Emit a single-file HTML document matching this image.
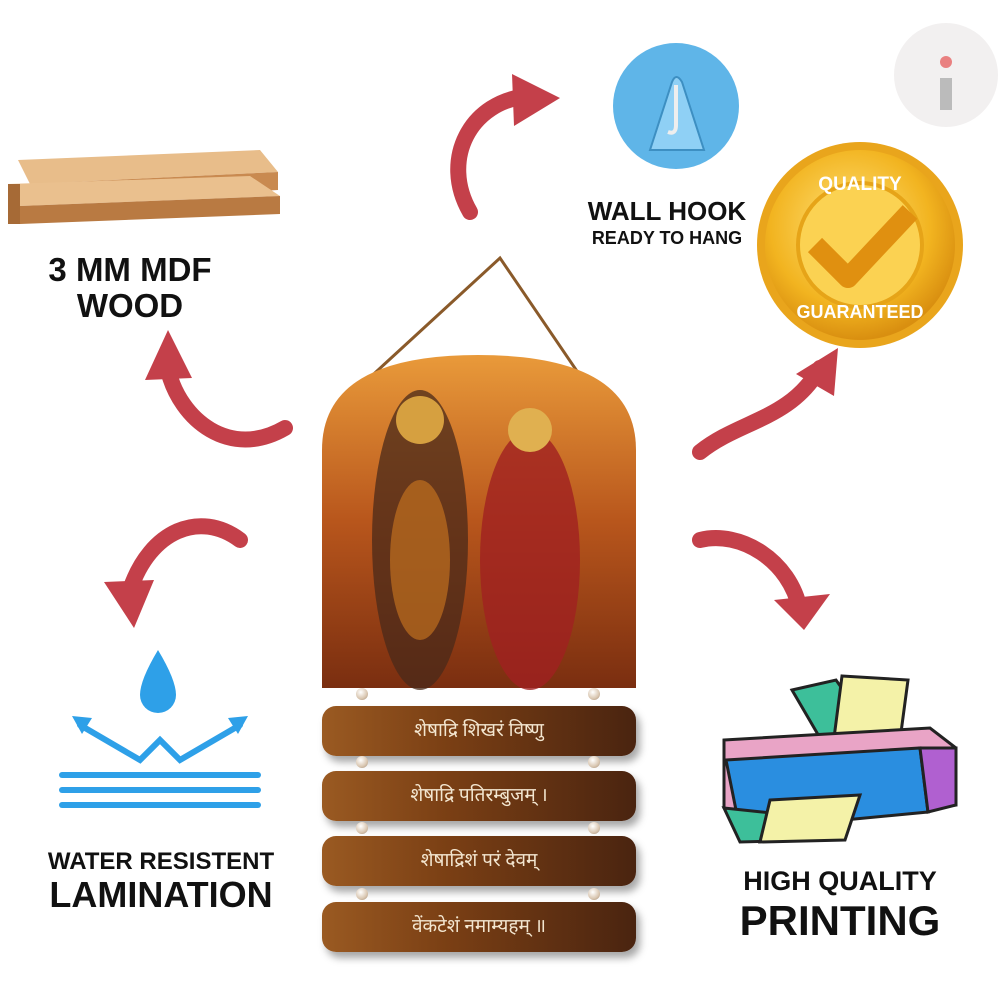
<!DOCTYPE html>
<html><head><meta charset="utf-8"><style>
html,body{margin:0;padding:0;background:#fff;}
body{width:1000px;height:1000px;position:relative;overflow:hidden;font-family:"Liberation Sans",sans-serif;}
.t{position:absolute;font-weight:bold;color:#111;text-align:center;white-space:nowrap;}
.bar{position:absolute;left:322px;width:314px;height:50px;border-radius:14px;
background:linear-gradient(90deg,#9a5a22 0%,#7a3f14 40%,#4a2410 100%);box-shadow:4px 6px 8px rgba(0,0,0,.35);
color:#f3e6d0;font-size:19px;text-align:center;line-height:50px;font-family:"Liberation Serif","Noto Sans CJK SC",serif;}
.bead{position:absolute;width:12px;height:12px;border-radius:50%;background:radial-gradient(circle at 40% 35%,#fff,#d9c6b0 60%,#9b8570);}
</style></head><body>

<svg width="1000" height="1000" style="position:absolute;left:0;top:0">
<defs>
<linearGradient id="wood" x1="0" y1="0" x2="0" y2="1"><stop offset="0" stop-color="#e2b47e"/><stop offset="1" stop-color="#c98d52"/></linearGradient>
<radialGradient id="gold" cx=".45" cy=".4" r=".6"><stop offset="0" stop-color="#ffe27a"/><stop offset=".7" stop-color="#f2b420"/><stop offset="1" stop-color="#d98f10"/></radialGradient>
<linearGradient id="img" x1="0" y1="0" x2="0" y2="1"><stop offset="0" stop-color="#e99a3a"/><stop offset=".5" stop-color="#b8561c"/><stop offset="1" stop-color="#7a2e10"/></linearGradient>
</defs>
<!-- wood planks -->
<polygon points="18,160 260,150 278,172 30,184" fill="#e8bd8a"/>
<polygon points="30,184 278,172 278,190 30,204" fill="#c98a50"/>
<polygon points="8,184 250,176 280,196 20,206" fill="#eac08e"/>
<polygon points="20,206 280,196 280,214 20,224" fill="#b97a42"/>
<rect x="8" y="184" width="12" height="40" fill="#a66a36"/>
<!-- red arrows -->
<g fill="none" stroke="#c4404a" stroke-width="16" stroke-linecap="round">
<path d="M470,212 C440,160 470,100 530,96"/>
<path d="M285,428 C230,460 180,420 168,370"/>
<path d="M240,540 C200,510 150,530 130,590"/>
<path d="M700,452 C740,420 790,420 820,368"/>
<path d="M700,540 C740,530 790,560 800,610"/>
</g>
<g fill="#c4404a">
<polygon points="512,74 560,98 514,126"/>
<polygon points="145,380 168,330 192,378"/>
<polygon points="104,582 134,628 154,580"/>
<polygon points="796,374 838,348 834,396"/>
<polygon points="774,600 804,630 830,594"/>
</g>
<!-- wall hook -->
<circle cx="676" cy="106" r="63" fill="#5fb5e8"/>
<path d="M650,150 L672,82 Q676,72 682,82 L704,150 Z" fill="#8fd0f5" stroke="#3d8fc2" stroke-width="2"/>
<path d="M676,85 L676,125 Q676,135 668,132" fill="none" stroke="#eee" stroke-width="4"/>
<!-- quality badge -->
<circle cx="860" cy="245" r="103" fill="#e9a51c"/>
<circle cx="860" cy="245" r="95" fill="url(#gold)"/>
<circle cx="860" cy="245" r="62" fill="#fbd252" stroke="#e6a418" stroke-width="4"/>
<path d="M815,245 L848,278 L910,212" fill="none" stroke="#e09010" stroke-width="20" stroke-linejoin="round"/>
<text x="860" y="190" font-family="Liberation Sans" font-weight="bold" font-size="19" fill="#fff" text-anchor="middle">QUALITY</text>
<text x="860" y="318" font-family="Liberation Sans" font-weight="bold" font-size="18" fill="#fff" text-anchor="middle">GUARANTEED</text>
<!-- i logo -->
<circle cx="946" cy="75" r="52" fill="#f2f0f0"/>
<rect x="940" y="78" width="12" height="32" fill="#bbb"/>
<circle cx="946" cy="62" r="6" fill="#e98080"/>
<!-- strings -->
<path d="M340,405 L500,258 L600,405" fill="none" stroke="#8a5a2a" stroke-width="3"/>
<!-- plaque image -->
<path d="M322,688 L322,450 Q322,355 478,355 Q636,355 636,450 L636,688 Z" fill="url(#img)" />
<ellipse cx="420" cy="540" rx="48" ry="150" fill="#4a2a1a" opacity=".75"/>
<ellipse cx="530" cy="560" rx="50" ry="130" fill="#a02020" opacity=".8"/>
<circle cx="420" cy="420" r="24" fill="#d6a040"/>
<circle cx="530" cy="430" r="22" fill="#e0b050"/>
<ellipse cx="420" cy="560" rx="30" ry="80" fill="#d07a20" opacity=".6"/>
<!-- water icon -->
<path d="M158,650 Q140,680 140,695 A18,18 0 0 0 176,695 Q176,680 158,650 Z" fill="#2ea0e8"/>
<g stroke="#2ea0e8" stroke-width="6" fill="none" stroke-linecap="round">
<path d="M80,725 L140,760 L160,740 L180,760 L240,725"/>
<line x1="62" y1="775" x2="258" y2="775"/>
<line x1="62" y1="790" x2="258" y2="790"/>
<line x1="62" y1="805" x2="258" y2="805"/>
</g>
<polygon points="72,716 92,718 82,734" fill="#2ea0e8"/>
<polygon points="248,716 228,718 238,734" fill="#2ea0e8"/>
<!-- printer -->
<polygon points="792,690 836,680 870,728 820,738" fill="#3dbf9a" stroke="#222" stroke-width="3"/>
<polygon points="842,676 908,680 900,740 834,738" fill="#f4f2a8" stroke="#222" stroke-width="3"/>
<path d="M724,740 L930,728 L956,748 L956,805 L740,828 L724,808 Z" fill="#e9a4c6" stroke="#222" stroke-width="3"/>
<path d="M726,760 L920,748 L928,812 L740,830 Z" fill="#2a8ee0" stroke="#222" stroke-width="3"/>
<path d="M920,748 L956,748 L956,805 L928,812 Z" fill="#b060d0" stroke="#222" stroke-width="3"/>
<path d="M724,808 L790,815 L820,840 L740,842 Z" fill="#3dbf9a" stroke="#222" stroke-width="3"/>
<polygon points="770,800 860,795 845,840 760,842" fill="#f4f2a8" stroke="#222" stroke-width="3"/>
</svg>

<div class="t" style="left:20px;top:252px;width:220px;font-size:33px;line-height:36px">3 MM MDF<br>WOOD</div>
<div class="t" style="left:570px;top:196px;width:194px;font-size:26px">WALL HOOK</div>
<div class="t" style="left:570px;top:228px;width:194px;font-size:18px">READY TO HANG</div>
<div class="t" style="left:30px;top:848px;width:262px;font-size:24px">WATER RESISTENT</div>
<div class="t" style="left:30px;top:874px;width:262px;font-size:36px">LAMINATION</div>
<div class="t" style="left:720px;top:866px;width:240px;font-size:27px">HIGH QUALITY</div>
<div class="t" style="left:720px;top:897px;width:240px;font-size:42px">PRINTING</div>

<div class="bead" style="left:356px;top:688px"></div><div class="bead" style="left:588px;top:688px"></div>
<div class="bar" style="top:706px">शेषाद्रि शिखरं विष्णु</div>
<div class="bead" style="left:356px;top:756px"></div><div class="bead" style="left:588px;top:756px"></div>
<div class="bar" style="top:771px">शेषाद्रि पतिरम्बुजम् ।</div>
<div class="bead" style="left:356px;top:822px"></div><div class="bead" style="left:588px;top:822px"></div>
<div class="bar" style="top:836px">शेषाद्रिशं परं देवम्</div>
<div class="bead" style="left:356px;top:888px"></div><div class="bead" style="left:588px;top:888px"></div>
<div class="bar" style="top:902px">वेंकटेशं नमाम्यहम् ॥</div>
</body></html>
